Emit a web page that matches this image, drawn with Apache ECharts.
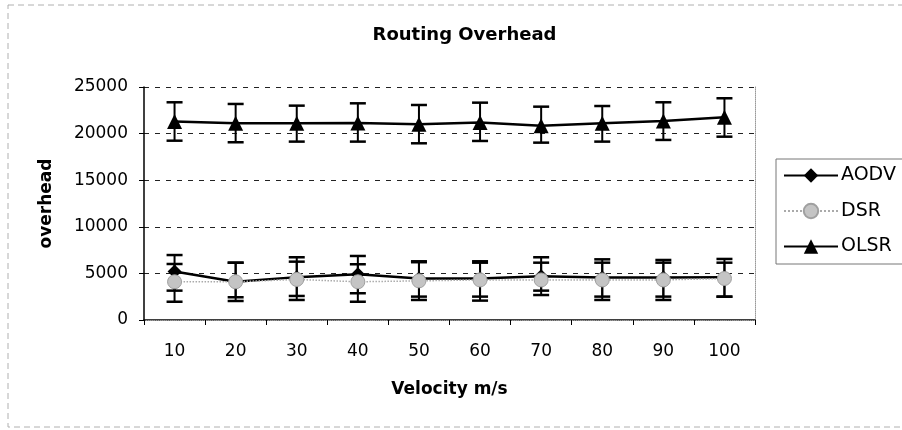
<!DOCTYPE html>
<html>
<head>
<meta charset="utf-8">
<script src="https://cdn.jsdelivr.net/npm/echarts@6/dist/echarts.min.js"></script>
<style>html,body{margin:0;padding:0;background:#fff}#c{width:902px;height:430px}</style>
</head>
<body>
<div id="c"></div>
<script>
var categories = ['10','20','30','40','50','60','70','80','90','100'];
var aodv = [5200, 4100, 4600, 4900, 4450, 4450, 4700, 4550, 4550, 4600];
var dsr  = [4100, 4100, 4350, 4100, 4200, 4300, 4300, 4300, 4300, 4450];
var olsr = [21300, 21100, 21100, 21150, 21000, 21200, 20850, 21100, 21350, 21750];
var aodvHigh = [6970, 6150, 6730, 6870, 6300, 6300, 6730, 6510, 6440, 6550];
var aodvLow  = [3150, 2040, 2580, 2870, 2510, 2510, 3150, 2510, 2510, 2510];
var dsrHigh  = [6010, 6150, 6260, 5980, 6200, 6150, 6150, 6150, 6150, 6150];
var dsrLow   = [1960, 2440, 2150, 1960, 2150, 2080, 2680, 2150, 2150, 2500];
var olsrHigh = [23360, 23180, 23000, 23250, 23070, 23320, 22890, 22960, 23360, 23790];
var olsrLow  = [19240, 19070, 19140, 19140, 18960, 19210, 19030, 19140, 19320, 19670];
var yTicks = [0, 5000, 10000, 15000, 20000, 25000];

var FONT = 'DejaVu Sans';

function errData(low, high) {
  return categories.map(function (c, i) { return [i, low[i], high[i]]; });
}
function errRender(params, api) {
  var x = api.value(0);
  var lo = api.coord([x, api.value(1)]);
  var hi = api.coord([x, api.value(2)]);
  var hw = 8;
  var st = { stroke: '#000', lineWidth: 2.5 };
  return {
    type: 'group',
    children: [
      { type: 'line', shape: { x1: lo[0], y1: lo[1], x2: hi[0], y2: hi[1] }, style: { stroke: '#000', lineWidth: 2 } },
      { type: 'line', shape: { x1: hi[0] - hw, y1: hi[1], x2: hi[0] + hw, y2: hi[1] }, style: st },
      { type: 'line', shape: { x1: lo[0] - hw, y1: lo[1], x2: lo[0] + hw, y2: lo[1] }, style: st }
    ]
  };
}

var chart = echarts.init(document.getElementById('c'), null, { renderer: 'canvas' });
chart.setOption({
  animation: false,
  backgroundColor: '#fff',
  textStyle: { fontFamily: FONT },
  title: {
    text: 'Routing Overhead',
    left: 459.5, textAlign: 'center', top: 21,
    textStyle: { fontFamily: FONT, fontSize: 18, fontWeight: 'bold', color: '#000' }
  },
  graphic: [{
    type: 'rect', silent: true,
    shape: { x: 8, y: 5, width: 1000, height: 422 },
    style: { fill: 'none', stroke: '#b0b0b0', lineWidth: 1, lineDash: [6, 4] }
  }],
  legend: {
    orient: 'vertical',
    left: 776, top: 159,
    padding: [7, 30, 8, 7],
    borderColor: '#777', borderWidth: 1,
    itemWidth: 54, itemHeight: 18, itemGap: 16.5,
    textStyle: { fontFamily: FONT, fontSize: 19, color: '#000', padding: [0, 0, 0, -2] },
    data: ['AODV', 'DSR', 'OLSR']
  },
  grid: { left: 144, right: 147, top: 87, bottom: 110 },
  xAxis: [{
    type: 'category', data: categories, boundaryGap: true,
    name: 'Velocity m/s', nameLocation: 'middle', nameGap: 61,
    nameTextStyle: { fontFamily: FONT, fontSize: 17, fontWeight: 'bold', color: '#000' },
    axisLine: { lineStyle: { color: '#000', width: 1.5 } },
    axisTick: { show: true, length: 5, inside: false, lineStyle: { color: '#000' } },
    axisLabel: { fontFamily: FONT, fontSize: 17, color: '#000', margin: 23 },
    splitLine: { show: false }
  }, {
    type: 'category', data: categories, position: 'top',
    axisLine: { lineStyle: { color: '#999', type: 'dotted' } },
    axisTick: { show: false }, axisLabel: { show: false }
  }],
  yAxis: [{
    type: 'value', min: 0, max: 25000, interval: 5000,
    name: 'overhead', nameLocation: 'middle', nameGap: 89, nameRotate: 90,
    nameTextStyle: { fontFamily: FONT, fontSize: 17, fontWeight: 'bold', color: '#000' },
    axisLine: { show: true, lineStyle: { color: '#000', width: 1.5 } },
    axisTick: { show: true, length: 5, lineStyle: { color: '#000' } },
    axisLabel: {
      fontFamily: FONT, fontSize: 17, color: '#000', margin: 16,
      formatter: function (v) { return yTicks.indexOf(v) >= 0 ? String(v) : ''; }
    },
    splitLine: {
      show: true,
      lineStyle: { color: '#222', type: [5, 6], width: 1 }
    }
  }, {
    type: 'value', min: 0, max: 25000, interval: 5000, position: 'right',
    axisLine: { show: true, lineStyle: { color: '#999', type: 'dotted' } },
    axisTick: { show: false }, axisLabel: { show: false }, splitLine: { show: false }
  }],
  series: [
    {
      name: 'AODV', type: 'line', data: aodv, z: 3,
      symbol: 'diamond', symbolSize: 14,
      lineStyle: { color: '#000', width: 2.5 },
      itemStyle: { color: '#000' }
    },
    {
      name: 'DSR', type: 'line', data: dsr, z: 4,
      symbol: 'circle', symbolSize: 14,
      lineStyle: { color: '#aaa', width: 1.5, type: 'dotted' },
      itemStyle: { color: '#c4c4c4', borderColor: '#a0a0a0', borderWidth: 1 }
    },
    {
      name: 'OLSR', type: 'line', data: olsr, z: 3,
      symbol: 'triangle', symbolSize: 15,
      lineStyle: { color: '#000', width: 2.5 },
      itemStyle: { color: '#000' }
    },
    { type: 'custom', data: errData(aodvLow, aodvHigh), renderItem: errRender, z: 2, encode: { x: 0, y: [1, 2] } },
    { type: 'custom', data: errData(dsrLow, dsrHigh), renderItem: errRender, z: 2, encode: { x: 0, y: [1, 2] } },
    { type: 'custom', data: errData(olsrLow, olsrHigh), renderItem: errRender, z: 2, encode: { x: 0, y: [1, 2] } }
  ]
});
</script>
</body>
</html>
